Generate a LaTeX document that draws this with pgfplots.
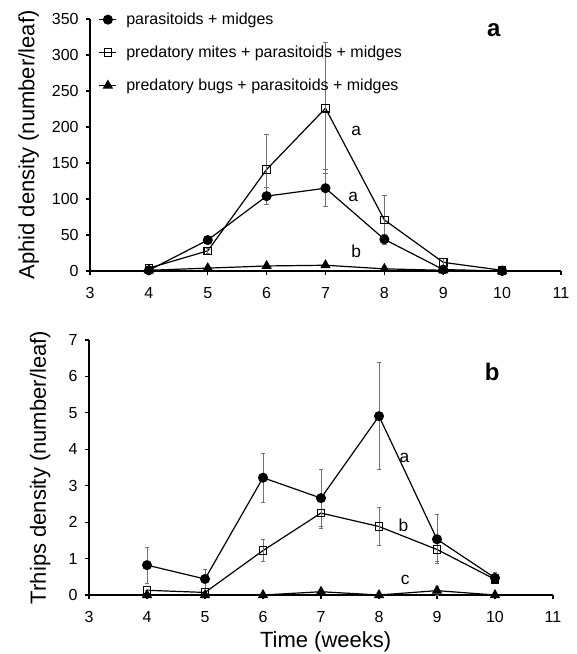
\documentclass[border=0pt]{standalone}
\usepackage{fontspec}
\setmainfont{Liberation Sans}
\usepackage{pgfplots}
\pgfplotsset{compat=1.18}

\pgfplotsset{
  panel/.style={
    scale only axis,
    axis lines=left,
    axis line style={-, line width=0.8pt},
    tick align=outside,
    major tick length=3pt,
    tick style={black, line width=0.8pt},
    xmin=3, xmax=11, xtick={3,...,11},
    ymin=0,
    ticklabel style={font=\fontsize{12}{14}\selectfont},
    xticklabel style={yshift=-6pt},
    yticklabel style={xshift=-2pt},
    /pgf/number format/assume math mode=true,
    label style={font=\fontsize{16.5}{19}\selectfont, inner sep=0pt},
    clip=false,
  },
  errs/.style={
    error bars/y dir=both, error bars/y explicit,
    error bars/error bar style={black!55, line width=0.7pt},
    error bars/error mark options={black!55, rotate=90, mark size=1.6pt, line width=0.7pt},
  },
  circ/.style={black, line width=0.9pt, mark=*, mark size=3.3pt, mark options={solid, fill=black}},
  sq/.style={black, line width=0.9pt, mark=square, mark size=2.8pt, mark options={solid, fill=white}},
  tri/.style={black, line width=0.9pt, mark=triangle*, mark size=3.6pt, mark options={solid, fill=black}},
}

\begin{document}
\begin{tikzpicture}
\path (0,0) rectangle (432.75pt,-490.5pt);

% panel a: aphids
\begin{axis}[panel,
  at={(67.5pt,-203.25pt)}, anchor=south west,
  width=353.25pt, height=189pt,
  ymax=350, ytick={0,50,...,350},
  ylabel={Aphid density (number/leaf)},
  ylabel style={at={(axis description cs:-0.13,0.5)}, anchor=center},
  legend cell align=left,
  legend style={draw=none, fill=none, inner sep=0pt,
    at={(rel axis cs:0.018,1.036)}, anchor=north west,
    font=\fontsize{12}{14}\selectfont, row sep=10.5pt,
    /tikz/every odd column/.append style={column sep=5pt}},
  legend image code/.code={\draw[mark repeat=2,mark phase=2,#1] plot coordinates {(0pt,0pt) (6.4pt,0pt) (12.8pt,0pt)};},
]
\addplot[circ, errs] table[x=t, y=m, y error=e] {
t  m   e
4  1   0
5  43  4
6  104 12
7  115 26
8  44  7
9  2   1
10 0   0
};
\addlegendentry{parasitoids + midges}
\addplot[sq, errs] table[x=t, y=m, y error=e] {
t  m   e
4  4   0
5  28  3
6  141 49
7  226 91
8  71  34
9  12  6
10 1   0
};
\addlegendentry{predatory mites + parasitoids + midges}
\addplot[tri, errs] table[x=t, y=m, y error=e] {
t  m  e
4  1  0
5  4  0
6  7  0
7  8  0
8  3  0
9  1  0
10 0  0
};
\addlegendentry{predatory bugs + parasitoids + midges}
\node[font=\fontsize{13}{15}\selectfont] at (axis cs:7.52,195) {a};
\node[font=\fontsize{13}{15}\selectfont] at (axis cs:7.47,103) {a};
\node[font=\fontsize{13}{15}\selectfont] at (axis cs:7.52,28) {b};
\node[font=\fontsize{18}{20}\selectfont\bfseries] at (axis cs:9.86,335) {a};
\end{axis}

% panel b: thrips
\begin{axis}[panel,
  at={(66.75pt,-446.25pt)}, anchor=south west,
  width=348pt, height=191.25pt,
  ymax=7, ytick={0,...,7},
  ylabel={Trhips density (number/leaf)},
  ylabel style={at={(axis description cs:-0.105,0.5)}, anchor=center},
  xlabel={Time (weeks)},
  xlabel style={at={(axis description cs:0.51,-0.185)}, anchor=center},
]
\addplot[circ, errs] table[x=t, y=m, y error=e] {
t  m    e
4  0.82 0.49
5  0.44 0.27
6  3.22 0.67
7  2.66 0.78
8  4.91 1.46
9  1.53 0.67
10 0.47 0.15
};
\addplot[sq, errs] table[x=t, y=m, y error=e] {
t  m    e
4  0.13 0
5  0.07 0
6  1.22 0.31
7  2.25 0.43
8  1.88 0.52
9  1.25 0.33
10 0.43 0.10
};
\addplot[tri, errs] table[x=t, y=m, y error=e] {
t  m    e
4  0    0
5  0    0
6  0    0
7  0.09 0.05
8  0    0
9  0.12 0.12
10 0    0
};
\node[font=\fontsize{13}{15}\selectfont] at (axis cs:8.44,3.77) {a};
\node[font=\fontsize{13}{15}\selectfont] at (axis cs:8.42,1.90) {b};
\node[font=\fontsize{13}{15}\selectfont] at (axis cs:8.45,0.41) {c};
\node[font=\fontsize{18}{20}\selectfont\bfseries] at (axis cs:9.95,6.13) {b};
\end{axis}
\end{tikzpicture}
\end{document}
